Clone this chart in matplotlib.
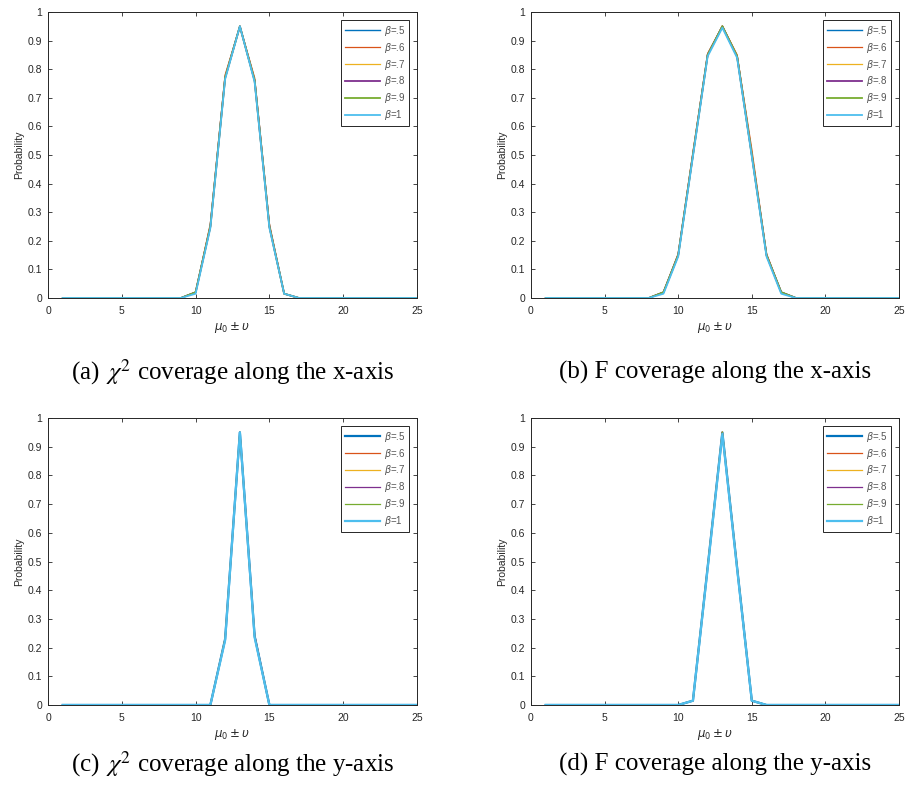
import matplotlib
matplotlib.use("Agg")
import matplotlib.pyplot as plt

plt.rcParams['font.family'] = ['Liberation Sans', 'DejaVu Sans']

# x positions (mu_0 +- upsilon)
x_vals = list(range(1, 26))

betas = ['.5', '.6', '.7', '.8', '.9', '1']
colors = ['#0072BD', '#D95319', '#EDB120', '#7E2F8E', '#77AC30', '#4DBEEE']

# (a) chi^2 along x-axis, one row per beta
chi_x = [
    [0, 0, 0, 0, 0, 0, 0, 0, 0, 0.02, 0.25, 0.77, 0.95, 0.76, 0.25, 0.015, 0, 0, 0, 0, 0, 0, 0, 0, 0],
    [0, 0, 0, 0, 0, 0, 0, 0, 0, 0.02, 0.26, 0.78, 0.95, 0.77, 0.26, 0.015, 0, 0, 0, 0, 0, 0, 0, 0, 0],
    [0, 0, 0, 0, 0, 0, 0, 0, 0, 0.02, 0.255, 0.775, 0.95, 0.765, 0.25, 0.015, 0, 0, 0, 0, 0, 0, 0, 0, 0],
    [0, 0, 0, 0, 0, 0, 0, 0, 0, 0.02, 0.25, 0.77, 0.95, 0.76, 0.25, 0.015, 0, 0, 0, 0, 0, 0, 0, 0, 0],
    [0, 0, 0, 0, 0, 0, 0, 0, 0, 0.02, 0.25, 0.77, 0.95, 0.76, 0.25, 0.015, 0, 0, 0, 0, 0, 0, 0, 0, 0],
    [0, 0, 0, 0, 0, 0, 0, 0, 0, 0.015, 0.245, 0.765, 0.95, 0.755, 0.245, 0.015, 0, 0, 0, 0, 0, 0, 0, 0, 0],
]

# (b) F along x-axis
f_x = [
    [0, 0, 0, 0, 0, 0, 0, 0, 0.02, 0.15, 0.50, 0.85, 0.95, 0.845, 0.50, 0.15, 0.02, 0, 0, 0, 0, 0, 0, 0, 0],
    [0, 0, 0, 0, 0, 0, 0, 0, 0.02, 0.155, 0.51, 0.855, 0.95, 0.85, 0.52, 0.155, 0.02, 0, 0, 0, 0, 0, 0, 0, 0],
    [0, 0, 0, 0, 0, 0, 0, 0, 0.02, 0.15, 0.505, 0.85, 0.952, 0.85, 0.51, 0.15, 0.02, 0, 0, 0, 0, 0, 0, 0, 0],
    [0, 0, 0, 0, 0, 0, 0, 0, 0.02, 0.15, 0.50, 0.85, 0.95, 0.845, 0.50, 0.15, 0.02, 0, 0, 0, 0, 0, 0, 0, 0],
    [0, 0, 0, 0, 0, 0, 0, 0, 0.02, 0.15, 0.50, 0.85, 0.95, 0.845, 0.50, 0.15, 0.02, 0, 0, 0, 0, 0, 0, 0, 0],
    [0, 0, 0, 0, 0, 0, 0, 0, 0.015, 0.145, 0.495, 0.845, 0.945, 0.84, 0.495, 0.145, 0.015, 0, 0, 0, 0, 0, 0, 0, 0],
]

# (c) chi^2 along y-axis
chi_y = [
    [0, 0, 0, 0, 0, 0, 0, 0, 0, 0, 0, 0.23, 0.95, 0.24, 0, 0, 0, 0, 0, 0, 0, 0, 0, 0, 0],
    [0, 0, 0, 0, 0, 0, 0, 0, 0, 0, 0, 0.23, 0.95, 0.24, 0, 0, 0, 0, 0, 0, 0, 0, 0, 0, 0],
    [0, 0, 0, 0, 0, 0, 0, 0, 0, 0, 0, 0.23, 0.95, 0.24, 0, 0, 0, 0, 0, 0, 0, 0, 0, 0, 0],
    [0, 0, 0, 0, 0, 0, 0, 0, 0, 0, 0, 0.23, 0.95, 0.245, 0, 0, 0, 0, 0, 0, 0, 0, 0, 0, 0],
    [0, 0, 0, 0, 0, 0, 0, 0, 0, 0, 0, 0.23, 0.95, 0.24, 0, 0, 0, 0, 0, 0, 0, 0, 0, 0, 0],
    [0, 0, 0, 0, 0, 0, 0, 0, 0, 0, 0, 0.225, 0.95, 0.235, 0, 0, 0, 0, 0, 0, 0, 0, 0, 0, 0],
]

# (d) F along y-axis
f_y = [
    [0, 0, 0, 0, 0, 0, 0, 0, 0, 0, 0.015, 0.48, 0.95, 0.48, 0.015, 0, 0, 0, 0, 0, 0, 0, 0, 0, 0],
    [0, 0, 0, 0, 0, 0, 0, 0, 0, 0, 0.015, 0.48, 0.95, 0.48, 0.015, 0, 0, 0, 0, 0, 0, 0, 0, 0, 0],
    [0, 0, 0, 0, 0, 0, 0, 0, 0, 0, 0.015, 0.48, 0.952, 0.48, 0.015, 0, 0, 0, 0, 0, 0, 0, 0, 0, 0],
    [0, 0, 0, 0, 0, 0, 0, 0, 0, 0, 0.015, 0.48, 0.95, 0.48, 0.015, 0, 0, 0, 0, 0, 0, 0, 0, 0, 0],
    [0, 0, 0, 0, 0, 0, 0, 0, 0, 0, 0.015, 0.48, 0.95, 0.48, 0.015, 0, 0, 0, 0, 0, 0, 0, 0, 0, 0],
    [0, 0, 0, 0, 0, 0, 0, 0, 0, 0, 0.015, 0.475, 0.945, 0.475, 0.015, 0, 0, 0, 0, 0, 0, 0, 0, 0, 0],
]

captions = [r'(a) $\,\chi^{2}$ coverage along the x-axis',
            '(b) F coverage along the x-axis',
            r'(c) $\,\chi^{2}$ coverage along the y-axis',
            '(d) F coverage along the y-axis']

# line widths per panel (top legends thinner, bottom ones with thick first/last)
widths_top = [1.0, 0.9, 0.9, 1.3, 1.3, 1.3]
widths_bot = [1.6, 0.9, 0.9, 0.9, 0.9, 1.6]

W, H = 905, 793
fig = plt.figure(figsize=(W / 100, H / 100), dpi=100)

# axes boxes in pixels: left, top, right, bottom
boxes = [(48, 12, 417, 298), (531, 12, 899, 298),
         (48, 418, 417, 705), (531, 418, 899, 705)]
datasets = [chi_x, f_x, chi_y, f_y]
cap_y = [372, 372, 764, 764]

for i, (box, data) in enumerate(zip(boxes, datasets)):
    l, t, r, b = box
    ax = fig.add_axes([l / W, 1 - b / H, (r - l) / W, (b - t) / H])
    widths = widths_top if i < 2 else widths_bot
    for j in range(6):
        ax.plot(x_vals, data[j], color=colors[j], lw=widths[j],
                label=r'$\beta$=' + betas[j])
    ax.set_xlim(0, 25)
    ax.set_ylim(0, 1)
    ax.set_xticks([0, 5, 10, 15, 20, 25])
    ax.set_yticks([k / 10 for k in range(11)])
    ax.set_yticklabels(['0', '0.1', '0.2', '0.3', '0.4', '0.5', '0.6', '0.7', '0.8', '0.9', '1'])
    ax.tick_params(direction='in', top=True, right=True, labelsize=7.5,
                   length=3, width=0.6, colors='#262626')
    ax.tick_params(axis='x', pad=6)
    ax.tick_params(axis='y', pad=4)
    for s in ax.spines.values():
        s.set_linewidth(0.7)
        s.set_color('#262626')
    ax.set_ylabel('Probability', fontsize=7.5, labelpad=3, color='#262626')
    ax.set_xlabel(r'$\mu_0\pm\upsilon$', fontsize=8.5, labelpad=3, color='#262626')
    leg = ax.legend(loc='upper right', fontsize=7, handlelength=3.6,
                    labelspacing=0.3, borderpad=0.4, handletextpad=0.4,
                    fancybox=False, framealpha=1, edgecolor='#262626',
                    borderaxespad=0.8)
    leg.get_frame().set_linewidth(0.7)
    for txt in leg.get_texts():
        txt.set_color('#555555')
    cx = (l + r) / 2 / W
    fig.text(cx, 1 - cap_y[i] / H, captions[i], ha='center', va='center',
             fontsize=18, family='Liberation Serif',
             math_fontfamily='stix')

fig.savefig('out.png', dpi=100)
